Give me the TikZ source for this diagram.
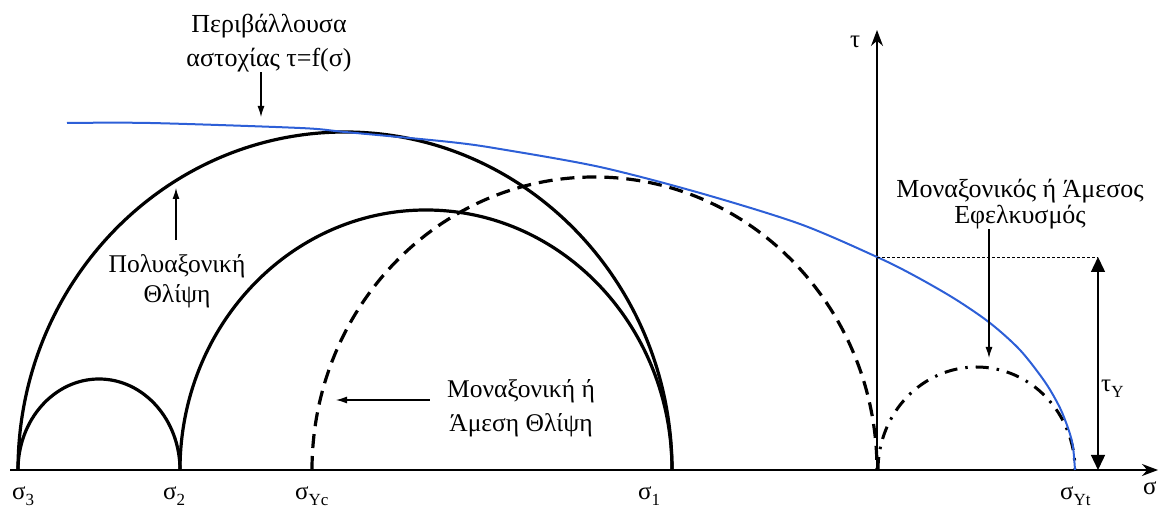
\documentclass[tikz,border=0pt]{standalone}
\usepackage{fontspec}
\setmainfont{Liberation Serif}
\usetikzlibrary{arrows.meta}
\newcommand{\lowsub}[1]{\raisebox{-6pt}{\fontsize{17}{17}\selectfont #1}}
\definecolor{envblue}{RGB}{45,95,215}
\begin{document}
\begin{tikzpicture}[x=1pt,y=1pt,
  lbl/.style={font=\fontsize{25.5}{30}\selectfont, inner sep=0pt, align=center},
  sym/.style={font=\fontsize{25}{30}\selectfont, inner sep=0pt, anchor=base west},
  circ/.style={line width=3.2pt},
  ptr/.style={line width=1.2pt, -{Latex[length=11pt,width=7pt]}},
  ax/.style={line width=1.6pt, -{Stealth[length=16pt,width=12pt]}},
  dim/.style={line width=1.4pt, {Triangle[length=15pt,width=14pt]}-{Triangle[length=15pt,width=14pt]}},
]
\useasboundingbox (0,0) rectangle (1164,513);

% axes
\coordinate (sL) at (10,43);
\coordinate (sR) at (1158,43);
\coordinate (tB) at (877,43);
\coordinate (tT) at (877,483);
\draw[ax] (sL) -- (sR);
\draw[ax] (tB) -- (tT);

% Mohr circles
\draw[circ] (672,43) arc[start angle=0,end angle=180,x radius=327,y radius=338];
\draw[circ] (672,43) arc[start angle=0,end angle=180,x radius=246,y radius=260];
\draw[circ] (180,43) arc[start angle=0,end angle=180,x radius=81,y radius=91];
\draw[circ, dash pattern=on 14pt off 8pt] (312,43) arc[start angle=180,end angle=0,x radius=282.5,y radius=293];
\draw[line width=3pt, dash pattern=on 13pt off 8pt on 2.5pt off 8pt] (878,43) arc[start angle=180,end angle=0,x radius=98.5,y radius=103];

% failure envelope
\draw[envblue, line width=2pt] plot[smooth] coordinates {
  (67,390) (150,390) (300,385) (345,381) (450,371) (500,364) (600,346)
  (700,320) (800,289) (877,256) (915,237) (955,214) (990,190) (1020,163)
  (1045,131) (1060,105) (1069,82) (1073,66) (1075,43)};

% tau_Y dimension
\coordinate (tYa) at (877,256);
\coordinate (tYb) at (1098,256);
\coordinate (tYc) at (1098,43);
\draw[line width=0.9pt, dash pattern=on 3pt off 2pt] (tYa) -- (tYb);
\draw[dim] (tYb) -- (tYc);
\node[sym] (tY) at (1101,121) {τ\lowsub{Y}};

% axis labels
\node[sym] (tlab) at (850,465) {τ};
\node[sym] (slab) at (1143,18) {σ};
\node[sym] (s3) at (12,13) {σ\lowsub{3}};
\node[sym] (s2) at (163,13) {σ\lowsub{2}};
\node[sym] (sYc) at (295,13) {σ\lowsub{Yc}};
\node[sym] (s1) at (638,13) {σ\lowsub{1}};
\node[sym] (sYt) at (1060,13) {σ\lowsub{Yt}};

% annotations
\node[lbl, font=\fontsize{26}{34.5}\selectfont] (env) at (269,470) {Περιβάλλουσα\\αστοχίας τ=f(σ)};
\coordinate (envTip) at (261,396);
\draw[ptr] (env.south -| envTip) -- (envTip);

\node[lbl] (poly) at (177,232) {Πολυαξονική\\Θλίψη};
\coordinate (polyTip) at (176,325);
\draw[ptr, shorten <=14pt] (poly.north -| polyTip) -- (polyTip);

\node[lbl, font=\fontsize{25.5}{34}\selectfont] (mono) at (521,105) {Μοναξονική ή\\Άμεση Θλίψη};
\coordinate (monoTip) at (336,113);
\draw[ptr, shorten <=17pt] (mono.west |- monoTip) -- (monoTip);

\node[lbl, font=\fontsize{26}{26}\selectfont] (tens) at (1020,309) {Μοναξονικός ή Άμεσος\\Εφελκυσμός};
\coordinate (tensTip) at (989,155);
\draw[ptr] (tens.south -| tensTip) -- (tensTip);
\end{tikzpicture}
\end{document}
